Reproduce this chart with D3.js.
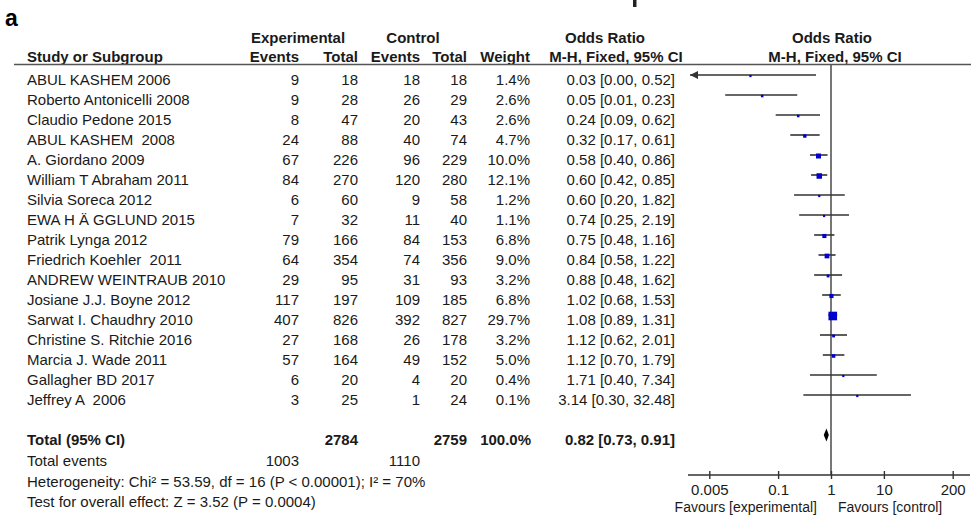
<!DOCTYPE html>
<html><head><meta charset="utf-8">
<script src="https://cdn.jsdelivr.net/npm/d3@7"></script>
<style>
html,body{margin:0;padding:0;background:#fff;}
svg{display:block;font-family:"Liberation Sans",Arial,sans-serif;}
text{white-space:pre;}
</style></head><body>
<script>
// ---- data ----
const studies = ["ABUL KASHEM 2006","Roberto Antonicelli 2008","Claudio Pedone 2015","ABUL KASHEM  2008","A. Giordano 2009","William T Abraham 2011","Silvia Soreca 2012","EWA H Ä GGLUND 2015","Patrik Lynga 2012","Friedrich Koehler  2011","ANDREW WEINTRAUB 2010","Josiane J.J. Boyne 2012","Sarwat I. Chaudhry 2010","Christine S. Ritchie 2016","Marcia J. Wade 2011","Gallagher BD 2017","Jeffrey A  2006"];
const expEvents = [9,9,8,24,67,84,6,7,79,64,29,117,407,27,57,6,3];
const expTotal  = [18,28,47,88,226,270,60,32,166,354,95,197,826,168,164,20,25];
const ctrlEvents= [18,26,20,40,96,120,9,11,84,74,31,109,392,26,49,4,1];
const ctrlTotal = [18,29,43,74,229,280,58,40,153,356,93,185,827,178,152,20,24];
const weights   = [1.4,2.6,2.6,4.7,10.0,12.1,1.2,1.1,6.8,9.0,3.2,6.8,29.7,3.2,5.0,0.4,0.1];
const orVals    = [0.03,0.05,0.24,0.32,0.58,0.60,0.60,0.74,0.75,0.84,0.88,1.02,1.08,1.12,1.12,1.71,3.14];
const ciLow     = [0.00,0.01,0.09,0.17,0.40,0.42,0.20,0.25,0.48,0.58,0.48,0.68,0.89,0.62,0.70,0.40,0.30];
const ciHigh    = [0.52,0.23,0.62,0.61,0.86,0.85,1.82,2.19,1.16,1.22,1.62,1.53,1.31,2.01,1.79,7.34,32.48];
const total = {expTotal:2784, ctrlTotal:2759, weight:100.0, or:0.82, lo:0.73, hi:0.91, expEvents:1003, ctrlEvents:1110};
const axisTicks = [0.005,0.1,1,10,200];
const axisTickLabels = ["0.005","0.1","1","10","200"];
const footLines = ["Heterogeneity: Chi² = 53.59, df = 16 (P < 0.00001); I² = 70%","Test for overall effect: Z = 3.52 (P = 0.0004)"];

// ---- drawing ----
const W=971,H=515;
const svg=d3.select("body").append("svg").attr("width",W).attr("height",H);
const FS=15, txt="#1a1a1a";
const f2=d3.format(".2f"), f1=d3.format(".1f");

const rowBase = d3.scaleLinear().domain([0,1]).range([85,105]); // baseline for row index
const x = d3.scaleLog().domain([0.005,200]).range([709.3,952.7]);
const axisY = 475, axisL = 688, axisR = 970;
const size = d3.scaleSqrt().domain([0,29.7]).range([0,8.6]);

// cropped fragment of a title above the figure (only a stroke remains visible)
svg.append("rect").attr("x",633).attr("y",0).attr("width",3.5).attr("height",7).attr("fill","#222");
// panel label
svg.append("text").attr("x",5).attr("y",26).attr("font-size",23).attr("font-weight","bold").attr("fill","#000").text("a");

// headers
const hb = svg.append("g").attr("font-size",FS).attr("font-weight","bold").attr("fill",txt);
hb.append("text").attr("x",298).attr("y",43).attr("text-anchor","middle").text("Experimental");
hb.append("text").attr("x",413).attr("y",43).attr("text-anchor","middle").text("Control");
hb.append("text").attr("x",605).attr("y",43).attr("text-anchor","middle").text("Odds Ratio");
hb.append("text").attr("x",832).attr("y",43).attr("text-anchor","middle").text("Odds Ratio");
const h2y=62;
hb.append("text").attr("x",27).attr("y",h2y).text("Study or Subgroup");
hb.append("text").attr("x",299).attr("y",h2y).attr("text-anchor","end").text("Events");
hb.append("text").attr("x",358).attr("y",h2y).attr("text-anchor","end").text("Total");
hb.append("text").attr("x",420).attr("y",h2y).attr("text-anchor","end").text("Events");
hb.append("text").attr("x",467).attr("y",h2y).attr("text-anchor","end").text("Total");
hb.append("text").attr("x",530).attr("y",h2y).attr("text-anchor","end").text("Weight");
hb.append("text").attr("x",616).attr("y",h2y).attr("text-anchor","middle").text("M-H, Fixed, 95% CI");
hb.append("text").attr("x",835).attr("y",h2y).attr("text-anchor","middle").text("M-H, Fixed, 95% CI");
svg.append("line").attr("x1",14).attr("x2",971).attr("y1",64.5).attr("y2",64.5).attr("stroke","#555").attr("stroke-width",1.6);

// study rows
const rows = svg.append("g").attr("font-size",FS).attr("fill",txt);
const idx = d3.range(studies.length);
const cols = [
  {x:27, anchor:"start", v:i=>studies[i]},
  {x:299, anchor:"end", v:i=>expEvents[i]},
  {x:358, anchor:"end", v:i=>expTotal[i]},
  {x:420, anchor:"end", v:i=>ctrlEvents[i]},
  {x:467, anchor:"end", v:i=>ctrlTotal[i]},
  {x:530, anchor:"end", v:i=>f1(weights[i])+"%"},
  {x:675, anchor:"end", v:i=>`${f2(orVals[i])} [${f2(ciLow[i])}, ${f2(ciHigh[i])}]`}
];
cols.forEach(c=>{
  rows.selectAll(null).data(idx).join("text")
    .attr("x",c.x).attr("y",i=>rowBase(i)).attr("text-anchor",c.anchor).text(c.v);
});

// total rows
const nT = studies.length+1;
const tb = svg.append("g").attr("font-size",FS).attr("fill",txt);
const tg = tb.append("g").attr("font-weight","bold");
tg.append("text").attr("x",27).attr("y",rowBase(nT)).text("Total (95% CI)");
tg.append("text").attr("x",358).attr("y",rowBase(nT)).attr("text-anchor","end").text(total.expTotal);
tg.append("text").attr("x",467).attr("y",rowBase(nT)).attr("text-anchor","end").text(total.ctrlTotal);
tg.append("text").attr("x",531).attr("y",rowBase(nT)).attr("text-anchor","end").text(f1(total.weight)+"%");
tg.append("text").attr("x",675).attr("y",rowBase(nT)).attr("text-anchor","end").text(`${f2(total.or)} [${f2(total.lo)}, ${f2(total.hi)}]`);
tb.append("text").attr("x",27).attr("y",466).text("Total events");
tb.append("text").attr("x",299).attr("y",466).attr("text-anchor","end").text(total.expEvents);
tb.append("text").attr("x",420).attr("y",466).attr("text-anchor","end").text(total.ctrlEvents);
tb.append("text").attr("x",27).attr("y",486.5).text(footLines[0]);
tb.append("text").attr("x",27).attr("y",507).text(footLines[1]);

// forest plot
const fp = svg.append("g");
fp.append("line").attr("x1",x(1)).attr("x2",x(1)).attr("y1",64).attr("y2",axisY).attr("stroke","#555").attr("stroke-width",1.6);
const markY = i=>rowBase(i)-10;
const [dMin] = x.domain();
idx.forEach(i=>{
  const arrowL = ciLow[i] < dMin;
  const x1 = arrowL ? axisL+2 : x(ciLow[i]);
  const x2 = x(ciHigh[i]);
  fp.append("line").attr("x1",x1).attr("x2",x2).attr("y1",markY(i)).attr("y2",markY(i))
    .attr("stroke","#333").attr("stroke-width",1.6);
  if(arrowL){
    fp.append("path").attr("d",`M${x1},${markY(i)} l8,-4 l0,8 z`).attr("fill","#333");
  }
  const s=Math.max(2.2,size(weights[i]));
  fp.append("rect").attr("x",x(orVals[i])-s/2).attr("y",markY(i)-s/2+1).attr("width",s).attr("height",s).attr("fill","#0000cc");
});
// diamond
const dy = markY(nT);
fp.append("path").attr("d",`M${x(total.lo)},${dy} L${x(total.or)},${dy-6.5} L${x(total.hi)},${dy} L${x(total.or)},${dy+6.5} Z`).attr("fill","#000");

// axis
fp.append("line").attr("x1",axisL).attr("x2",axisR).attr("y1",axisY).attr("y2",axisY).attr("stroke","#333").attr("stroke-width",1.4);
const ax = fp.append("g").attr("transform",`translate(0,${axisY})`)
  .call(d3.axisBottom(x).tickValues(axisTicks).tickFormat((d,i)=>axisTickLabels[i]).tickSize(4).tickSizeOuter(0));
ax.select(".domain").remove();
ax.selectAll(".tick line").attr("y1",-4).attr("y2",4).attr("stroke","#333").attr("stroke-width",1.4);
ax.selectAll(".tick text").attr("font-size",FS).attr("font-family","Liberation Sans, Arial, sans-serif").attr("fill",txt).attr("dy",0).attr("y",19.5);
fp.append("text").attr("x",817).attr("y",512).attr("text-anchor","end").attr("font-size",14).attr("fill",txt).text("Favours [experimental]");
fp.append("text").attr("x",838).attr("y",512).attr("text-anchor","start").attr("font-size",14).attr("fill",txt).text("Favours [control]");
</script>
</body></html>
